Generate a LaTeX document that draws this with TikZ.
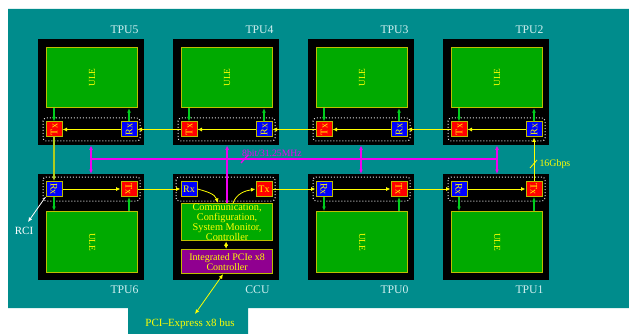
\documentclass[tikz,border=0pt]{standalone}
\usepackage{fontspec}
\setmainfont{Liberation Serif}
\usepackage{graphicx}
\usetikzlibrary{arrows.meta}
\definecolor{bgteal}{RGB}{0,140,140}
\definecolor{ulegreen}{RGB}{0,170,0}
\definecolor{rim}{RGB}{190,190,0}
\definecolor{sig}{RGB}{255,255,0}
\definecolor{ctlgreen}{RGB}{0,205,30}
\definecolor{busmag}{RGB}{240,0,240}
\definecolor{pcimag}{RGB}{144,0,144}
\definecolor{pale}{RGB}{210,240,240}
\tikzset{>={Latex[length=4.5pt,width=4pt]},
  unit/.style={fill=black, minimum width=106pt, minimum height=106pt, inner sep=0pt, anchor=north west},
  ule/.style={draw=rim, fill=ulegreen, line width=1.2pt, minimum width=91pt, minimum height=60pt, inner sep=0pt, anchor=north west, text=sig, font=\fontsize{9.3}{10}\selectfont},
  txbox/.style={draw=rim, fill=red, line width=1pt, minimum width=16pt, minimum height=15pt, inner sep=0pt, text=sig, font=\fontsize{10}{10}\selectfont},
  rxbox/.style={txbox, fill=blue},
  link/.style={draw=gray!25, line width=1pt, dash pattern=on 1pt off 2pt, rounded corners=3pt},
  sigline/.style={draw=sig, line width=0.8pt, ->},
  ctl/.style={draw=ctlgreen, line width=1.2pt, ->},
  bus/.style={draw=busmag, line width=1.3pt},
  tpulbl/.style={text=pale, anchor=east, font=\fontsize{11.7}{12}\selectfont}}
\begin{document}
\begin{tikzpicture}[x=1pt,y=-1pt]
\useasboundingbox (0,0) rectangle (629,334);
\fill[bgteal] (8,9) -- (629,9) -- (629,308) -- (248,308) -- (248,334) -- (128,334) -- (128,308) -- (8,308) -- cycle;
% upper row, data goes right to left
\foreach \n/\x in {5/38,4/173,3/308,2/443}{
  \node[unit] (u\n) at (\x,39) {};
  \node[ule] (ule\n) at (\x+8,47) {\rotatebox{90}{ULE}};
  \draw[link] (\x+5,118) rectangle (\x+102,141);
  \node[txbox] (tx\n) at (\x+16,129.5) {\rotatebox{90}{Tx}};
  \node[rxbox] (rx\n) at (\x+91,129.5) {\rotatebox{90}{Rx}};
  \node[tpulbl] (l\n) at (\x+104,30) {TPU\n};
  \draw[sigline] (rx\n) -- (tx\n);
  \draw[ctl] (ule\n.south -| tx\n) -- (tx\n);
  \draw[ctl] (rx\n) -- (rx\n |- ule\n.south);
}
% lower row, data goes left to right
\foreach \n/\x in {6/38,0/308,1/443}{
  \node[unit] (u\n) at (\x,174) {};
  \node[ule, minimum height=61pt] (ule\n) at (\x+8,211) {\rotatebox{-90}{ULE}};
  \draw[link] (\x+5,177) rectangle (\x+102,201);
  \node[rxbox] (rx\n) at (\x+16,189) {\rotatebox{-90}{Rx}};
  \node[txbox] (tx\n) at (\x+91,189) {\rotatebox{-90}{Tx}};
  \node[tpulbl] (l\n) at (\x+104,290) {TPU\n};
  \draw[sigline] (rx\n) -- (tx\n);
  \draw[ctl] (rx\n) -- (rx\n |- ule\n.north);
  \draw[ctl] (ule\n.north -| tx\n) -- (tx\n);
}
% CCU
\node[unit] (uc) at (173,174) {};
\draw[link] (176,177) rectangle (275,201);
\node[rxbox] (rxc) at (189,189) {Rx};
\node[txbox] (txc) at (264,189) {Tx};
\node[tpulbl] (lc) at (273,290) {CCU};
\node[ule, minimum height=31pt, align=center, font=\fontsize{10.3}{7}\selectfont] (comm) at (181,203) {Communication,\\Configuration,\\System Monitor,\\Controller};
\node[ule, fill=pcimag, minimum height=24pt, align=center, font=\fontsize{10}{10}\selectfont] (pcie) at (181,249) {Integrated PCIe x8\\Controller};
% ring links
\draw[sigline] (tx2) -- (rx3);
\draw[sigline] (tx3) -- (rx4);
\draw[sigline] (tx4) -- (rx5);
\draw[sigline, draw={rgb,255:red,175;green,205;blue,30}, line width=1.4pt] (tx5) -- (rx6);
\draw[sigline] (tx6) -- (rxc);
\draw[sigline] (rxc.east) to[out=-15,in=110] ([xshift=-9pt]comm.north);
\draw[sigline] ([xshift=6pt]comm.north) to[out=70,in=190] (txc.west);
\draw[sigline] (txc) -- (rx0);
\draw[sigline] (tx0) -- (rx1);
\draw[sigline] (tx1) -- (rx2);
\draw[sigline, <->] ([xshift=-1pt]comm.south) -- ([xshift=-1pt]pcie.north);
\draw[sig, line width=0.8pt] (530,168) -- (537,160);
\node[text=sig, anchor=west, font=\fontsize{9.9}{10}\selectfont] (gbps) at (536,164) {16Gbps};
% control bus
\coordinate (b1) at (91,159);
\coordinate (b2) at (361,159);
\coordinate (b3) at (497,159);
\draw[bus] (b1) -- (b3);
\draw[bus, <->] (u5.south -| b1) -- (u6.north -| b1);
\draw[bus, <->] (u3.south -| b2) -- (u0.north -| b2);
\draw[bus, <->] (u2.south -| b3) -- (u1.north -| b3);
\draw[bus, ->] (comm.north) -- (comm.north |- u4.south);
\draw[bus] (241,163) -- (248,155);
\node[text=busmag, font=\fontsize{9.7}{10}\selectfont] (rate) at (272,153) {8bit/31.25MHz};
% outside
\coordinate (rcix) at (28,222);
\draw[white, line width=0.8pt, ->] (rx6.south west) -- (rcix);
\node[text=white, font=\fontsize{11}{12}\selectfont] (rci) at (24,231) {RCI};
\coordinate (pcix) at (195,314);
\draw[sigline, <->] ([xshift=-4pt]pcie.south) -- (pcix);
\node[text=sig, font=\fontsize{11}{12}\selectfont] (pcibus) at (190,324) {PCI--Express x8 bus};
\end{tikzpicture}
\end{document}
